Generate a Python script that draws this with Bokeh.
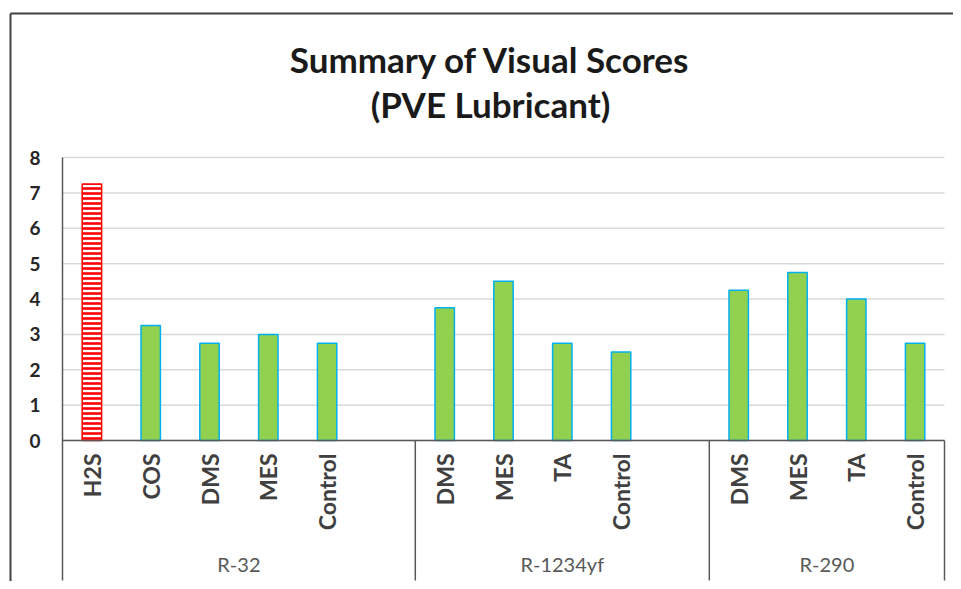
import math
from bokeh.plotting import figure
from bokeh.models import (ColumnDataSource, Range1d, FixedTicker, LinearAxis)
from bokeh.core.properties import value
from bokeh.embed import file_html
from bokeh.resources import INLINE

# ---------------- data ----------------
groups = ["R-32", "R-1234yf", "R-290"]
r32_labels = ["H2S", "COS", "DMS", "MES", "Control"]
r32_scores = [7.25, 3.25, 2.75, 3.0, 2.75]
r1234yf_labels = ["DMS", "MES", "TA", "Control"]
r1234yf_scores = [3.75, 4.5, 2.75, 2.5]
r290_labels = ["DMS", "MES", "TA", "Control"]
r290_scores = [4.25, 4.75, 4.0, 2.75]
# empty category slots that Excel left after each group
group_blank_slots = [1, 1, 0]
y_ticks = [0, 1, 2, 3, 4, 5, 6, 7, 8]
y_tick_labels = ["0", "1", "2", "3", "4", "5", "6", "7", "8"]
highlight = "H2S"

title_lines = ["Summary of Visual Scores", "(PVE Lubricant)"]

# ---------------- layout constants (pixels) ----------------
W, H = 953, 581
border_left, border_top = 10, 13          # outer chart border
plot_left, plot_right = 62, 944           # category area
plot_top, zero_y, plot_bottom = 157, 440, 580

# ---------------- category slots ----------------
all_labels = [r32_labels, r1234yf_labels, r290_labels]
all_scores = [r32_scores, r1234yf_scores, r290_scores]

slot = 0
bar_x, bar_top, bar_lab, is_hl = [], [], [], []
grp_start, grp_end = [], []
for gi, (g, labs, vals, nb) in enumerate(zip(groups, all_labels, all_scores, group_blank_slots)):
    grp_start.append(slot)
    for lab, v in zip(labs, vals):
        bar_x.append(slot + 0.5)
        bar_top.append(v)
        bar_lab.append(lab)
        is_hl.append(gi == 0 and lab == highlight)
        slot += 1
    slot += nb
    grp_end.append(slot)
n_slots = slot

# map pixels -> data ranges
px_per_slot = (plot_right - plot_left) / n_slots
px_per_unit = (zero_y - plot_top) / max(y_ticks)
x0 = -(plot_left - border_left) / px_per_slot
x1 = n_slots + (W - plot_right) / px_per_slot
y_top = max(y_ticks) + (plot_top - border_top) / px_per_unit
y_bot = -(H - zero_y) / px_per_unit
y_axis_bottom = -(plot_bottom - zero_y) / px_per_unit

p = figure(width=W, height=H, output_backend="svg", toolbar_location=None,
           x_range=Range1d(x0, x1), y_range=Range1d(y_bot, y_top),
           min_border_left=border_left, min_border_right=0,
           min_border_top=border_top, min_border_bottom=0)
p.outline_line_color = None
p.background_fill_color = "white"
p.border_fill_color = "white"
p.title.visible = False
p.xaxis.visible = False
p.xgrid.visible = False
p.ygrid.visible = False

# outer chart border: left axis line + top axis line
yax = p.yaxis[0]
for ax in [yax]:
    pass
top_ax = LinearAxis()
p.add_layout(top_ax, "above")
for ax in [yax, top_ax]:
    ax.ticker = FixedTicker(ticks=[])
    ax.major_tick_in = 0
    ax.major_tick_out = 0
    ax.minor_tick_in = 0
    ax.minor_tick_out = 0
    ax.major_label_text_font_size = "0px"
    ax.axis_line_color = "#404040"
    ax.axis_line_width = 2

# horizontal gridlines
n_t = len(y_ticks)
grid_src = ColumnDataSource(dict(x0=[0] * n_t, x1=[n_slots] * n_t, y=y_ticks))
p.segment(x0="x0", y0="y", x1="x1", y1="y", source=grid_src,
          line_color="#D9D9D9", line_width=1.5)

# bars
fill = ["white" if h else "#92D050" for h in is_hl]
line = ["#FF0000" if h else "#00B0F0" for h in is_hl]
hatch = ["-" if h else " " for h in is_hl]
src = ColumnDataSource(dict(x=bar_x, top=bar_top, fill=fill, line=line, hatch=hatch))
p.vbar(x="x", top="top", bottom=0, width=0.33, source=src, fill_color="fill",
       line_color="line", line_width=1.5, hatch_pattern="hatch", hatch_color="#FF0000",
       hatch_scale=5, hatch_weight=2.6)

# value axis line, category axis line, group dividers
ax_lines = ColumnDataSource(dict(
    x0=[0, 0] + grp_end, x1=[0, n_slots] + grp_end,
    y0=[max(y_ticks), 0] + [0] * len(grp_end),
    y1=[y_axis_bottom, 0] + [y_axis_bottom] * len(grp_end)))
p.segment(x0="x0", y0="y0", x1="x1", y1="y1", source=ax_lines,
          line_color="#595959", line_width=1.5)

# y tick labels
tick_src = ColumnDataSource(dict(x=[0] * n_t, y=y_ticks, t=y_tick_labels))
p.text(x="x", y="y", text="t", source=tick_src, x_offset=-22,
       text_align="right", text_baseline="middle",
       text_font=value("Lato"), text_font_size="19px", text_font_style="bold",
       text_color="#262626")

# category labels (rotated)
lab_src = ColumnDataSource(dict(x=bar_x, y=[0] * len(bar_x), t=bar_lab))
p.text(x="x", y="y", text="t", source=lab_src, angle=math.pi / 2,
       text_align="right", text_baseline="middle", y_offset=13,
       text_font=value("Lato"), text_font_size="23px", text_font_style="bold",
       text_color="#404040")

# group labels
gx = [(s + e) / 2 for s, e in zip(grp_start, grp_end)]
g_src = ColumnDataSource(dict(x=gx, y=[0] * len(gx), t=groups))
p.text(x="x", y="y", text="t", source=g_src, text_align="center",
       text_baseline="middle", y_offset=123, text_font=value("Lato"),
       text_font_size="20px", text_color="#595959")

# title (two centred lines)
t_src = ColumnDataSource(dict(x=[n_slots / 2] * 2, y=[y_top] * 2, t=title_lines,
                              yo=[45, 90]))
p.text(x="x", y="y", text="t", source=t_src, x_offset=-13, y_offset="yo",
       text_align="center", text_baseline="middle", text_font=value("Lato"),
       text_font_size="35px", text_font_style="bold", text_color="#1a1a1a")

open("out.html", "w").write(file_html(p, INLINE))
